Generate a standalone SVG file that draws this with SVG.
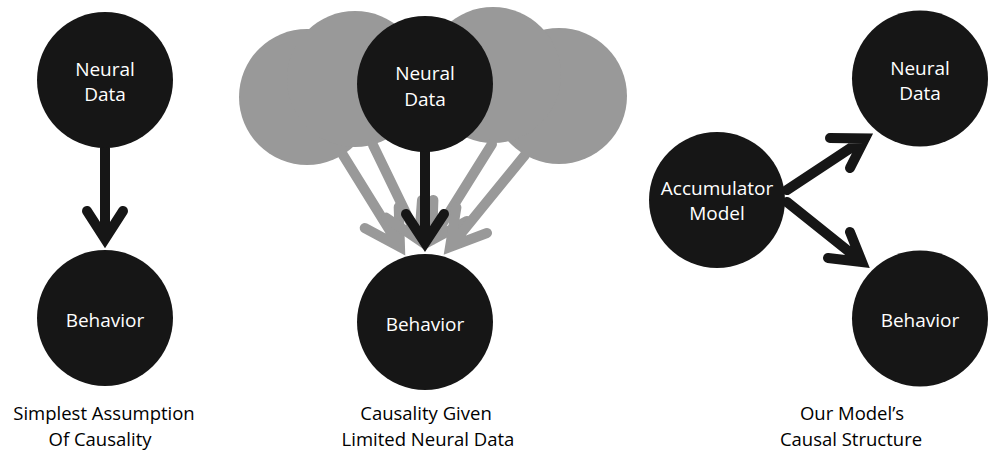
<svg xmlns="http://www.w3.org/2000/svg" width="990" height="450" viewBox="0 0 990 450">
<style>
.node{fill:#161616}
.ghost{fill:#999999}
.lbl{font-family:"Open Sans","DejaVu Sans",sans-serif;font-size:19px;fill:#ffffff;text-anchor:middle}
.cap{font-family:"Open Sans","DejaVu Sans",sans-serif;font-size:18.5px;fill:#000000;text-anchor:middle}
.arr{fill:none;stroke:#161616;stroke-width:10;stroke-linecap:round;stroke-linejoin:miter;stroke-miterlimit:10}
.garr{fill:none;stroke:#999999;stroke-width:10;stroke-linecap:round;stroke-linejoin:miter;stroke-miterlimit:10}
</style>
<rect width="990" height="450" fill="#ffffff"/>
<g id="ghost-nodes">
<circle class="ghost" cx="307" cy="97" r="68"/>
<circle class="ghost" cx="355" cy="79" r="68"/>
<circle class="ghost" cx="559" cy="96" r="68"/>
<circle class="ghost" cx="493" cy="75" r="68"/>
</g>
<g id="connectors">
<path class="garr" d="M343,155 L400,247 M364.7,228 L400,247 L398.7,207"/>
<path class="garr" d="M373,145 L419,240 M386,217.6 L419,240 L422,200"/>
<path class="garr" d="M492,144 L432,240 M467,221 L432,240 L433.4,200"/>
<path class="garr" d="M525,155 L450,247 M487,233 L450,247 L456.4,207.5"/>
<path class="arr" d="M105,148 L105,239 M87,211 L105,239 L123,211"/>
<path class="arr" d="M425,150 L425,243 M406,214 L425,243 L444,214"/>
<path class="arr" d="M787,190 L865,138.5 M830,138 L865,138.5 L850,168"/>
<path class="arr" d="M787,202 L862,262 M828,258 L862,262 L850,232"/>
</g>
<g id="left-neural">
<circle class="node" cx="105" cy="80" r="68"/>
<text class="lbl" x="105" y="76">Neural</text>
<text class="lbl" x="105" y="101">Data</text>
</g>
<g id="left-behavior">
<circle class="node" cx="105" cy="318" r="68"/>
<text class="lbl" x="105" y="327">Behavior</text>
</g>
<g id="mid-neural">
<circle class="node" cx="425" cy="84" r="68"/>
<text class="lbl" x="425" y="80">Neural</text>
<text class="lbl" x="425" y="106">Data</text>
</g>
<g id="mid-behavior">
<circle class="node" cx="425" cy="322" r="68"/>
<text class="lbl" x="425" y="331">Behavior</text>
</g>
<g id="accumulator">
<circle class="node" cx="717" cy="200" r="68"/>
<text class="lbl" x="717" y="195">Accumulator</text>
<text class="lbl" x="717" y="220">Model</text>
</g>
<g id="right-neural">
<circle class="node" cx="920" cy="78.5" r="68"/>
<text class="lbl" x="920" y="75">Neural</text>
<text class="lbl" x="920" y="100">Data</text>
</g>
<g id="right-behavior">
<circle class="node" cx="920" cy="318.5" r="68"/>
<text class="lbl" x="920" y="327">Behavior</text>
</g>
<g id="captions">
<text class="cap" x="104" y="420">Simplest Assumption</text>
<text class="cap" x="100" y="446">Of Causality</text>
<text class="cap" x="426" y="420">Causality Given</text>
<text class="cap" x="428" y="446">Limited Neural Data</text>
<text class="cap" x="852" y="420">Our Model’s</text>
<text class="cap" x="851" y="446">Causal Structure</text>
</g>
</svg>
